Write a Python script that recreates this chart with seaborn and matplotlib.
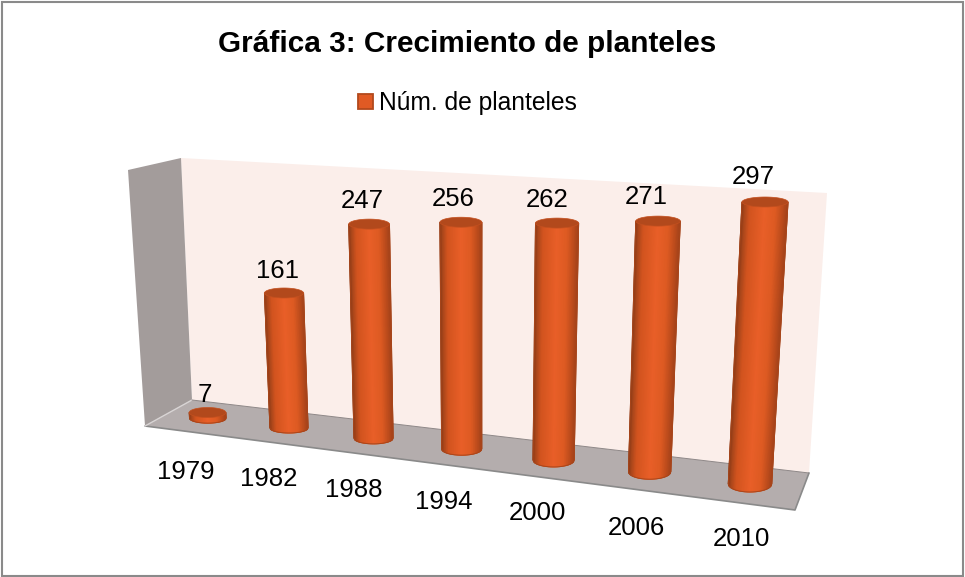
import numpy as np
import pandas as pd
import seaborn as sns
import matplotlib
matplotlib.use("Agg")
import matplotlib.pyplot as plt
from matplotlib.patches import Polygon, Rectangle, Patch
from matplotlib.colors import LinearSegmentedColormap

# ---- data ----
years = ["1979", "1982", "1988", "1994", "2000", "2006", "2010"]
planteles = [7, 161, 247, 256, 262, 271, 297]
series_name = "Núm. de planteles"
title_text = "Gráfica 3: Crecimiento de planteles"

# ---- scene geometry (pixels of the 3D box, not data) ----
back_wall = [(181, 158), (827, 193), (809, 473), (192, 400)]
left_wall = [(128, 170), (181, 158), (192, 400), (145, 426)]
floor = [(192, 400), (809, 473), (795, 510), (145, 426)]
plane_src = [(1, 0), (1, 161), (6, 0), (6, 297)]
plane_dst = [(289, 428), (284, 293), (750, 484), (765, 202)]
# label nudges in pixels, relative to the projected bar top / base
value_dx = [-3, -6, -7, -8, -10, -12, -12]
value_dy = [-18, -22, -23, -23, -23, -24, -25]
year_dx = [-22, -20, -20, -18, -16, -13, -9]
year_dy = [54, 51, 52, 53, 53, 56, 55]

sns.set_theme(style="white")
plt.rcParams["font.family"] = ["Liberation Sans", "DejaVu Sans"]


def fit_homography(src, dst):
    A, b = [], []
    for (x, y), (u, v) in zip(src, dst):
        A.append([x, y, 1, 0, 0, 0, -u * x, -u * y]); b.append(u)
        A.append([0, 0, 0, x, y, 1, -v * x, -v * y]); b.append(v)
    return np.append(np.linalg.solve(np.array(A, float), np.array(b, float)), 1).reshape(3, 3)


H = fit_homography(plane_src, plane_dst)


def project(x, y):
    """Map (category position, value) on the chart plane to scene pixels."""
    p = H @ np.array([x, y, 1.0])
    return p[:2] / p[2]


fig = plt.figure(figsize=(9.65, 5.77), dpi=100, facecolor="white")
ax = fig.add_axes([0, 0, 1, 1])

df = pd.DataFrame({"pos": np.arange(len(years)), "planteles": planteles})
sns.barplot(data=df, x="pos", y="planteles", color="#d9561f", saturation=1, native_scale=True,
            width=0.46, legend=False, ax=ax, zorder=3)
bars = list(ax.patches)

# box walls
ax.add_patch(Polygon(back_wall, closed=True, fc="#fbeeea", ec="none", zorder=1))
ax.add_patch(Polygon(left_wall, closed=True, fc="#a39c9b", ec="none", zorder=1))
ax.add_patch(Polygon(floor, closed=True, fc="#b4adad", ec="none", zorder=1))
ax.plot([145, 795, 809], [426, 510, 473], color="#8a8a8a", lw=1.2, zorder=2)
ax.plot([145, 192], [426, 400], color="#d8d4d4", lw=1.0, zorder=2)
ax.plot([192, 809], [400, 473], color="#8f8888", lw=0.7, zorder=2)

# cylinders: each seaborn bar is projected, then drawn as a shaded cylinder
shade = LinearSegmentedColormap.from_list(
    "cyl", [(0, "#8a3a16"), (0.06, "#a8461b"), (0.18, "#d2541f"), (0.5, "#e95f28"),
            (0.75, "#dd5a22"), (0.9, "#bd4c1c"), (1, "#a5431a")])
t = np.linspace(0, 2 * np.pi, 80)
s = np.linspace(-1, 1, 61)
for i, bar in enumerate(bars):
    x0, w, h = bar.get_x(), bar.get_width(), bar.get_height()
    cx = x0 + w / 2
    taper = 1 - 0.016 * max(i - 1, 0)
    (tx, ty) = project(cx, h)
    (bx, by) = project(cx, 0)
    thw = (project(x0 + w, h)[0] - project(x0, h)[0]) / 2 * taper
    bhw = (project(x0 + w, 0)[0] - project(x0, 0)[0]) / 2 * taper
    k_top = 5.0
    k_base = 5.0 + 0.6 * max(i - 1, 0)
    # the flat seaborn bar moves to its projected place, inside the cylinder body
    bar.set_bounds(min(tx, bx) - 2, ty, 4 + abs(tx - bx), by - ty)
    # body: smooth gradient over a two-row mesh whose lower row follows the base arc
    arc = by + k_base * np.sqrt(np.clip(1 - s * s, 0, None))
    X = np.vstack([tx + s * thw, bx + s * bhw])
    Y = np.vstack([np.full_like(s, ty), arc])
    C = np.vstack([(s + 1) / 2, (s + 1) / 2])
    ax.pcolormesh(X, Y, C, shading="gouraud", cmap=shade, vmin=0, vmax=1, zorder=4)
    # soft outline hides the mesh's hard edge
    ax.plot(np.r_[X[0, 0], X[1], X[0, -1]], np.r_[Y[0, 0], Y[1], Y[0, -1]],
            color="#a8461b", lw=0.7, zorder=4.5)
    ax.add_patch(Polygon(np.c_[tx + thw * np.cos(t), ty + k_top * np.sin(t)], closed=True,
                         fc="#b2491c", ec="#c4501f", lw=0.5, zorder=5))
    ax.text(tx + value_dx[i], ty + value_dy[i], str(planteles[i]), ha="center", va="center",
            fontsize=18.5, color="black", zorder=6)
    ax.text(bx + year_dx[i], by + year_dy[i], years[i], ha="center", va="center",
            fontsize=18.5, color="black", zorder=6)

ax.set_xlim(0, 965)
ax.set_ylim(577, 0)
ax.set_axis_off()

fig.text(467.5 / 965, 1 - 44 / 577, title_text, ha="center", va="center",
         fontsize=21.4, fontweight="bold", color="black")
handle = Patch(fc="#e05a24", ec="#b2491c", lw=1.3)
fig.legend(handles=[handle], labels=[series_name], loc="center",
           bbox_to_anchor=(467.5 / 965, 1 - 103 / 577), frameon=False, fontsize=17.7,
           labelcolor="black", handlelength=0.6, handleheight=0.6, handletextpad=0.25, borderpad=0)

fig.add_artist(Rectangle((1.5 / 965, 1.5 / 577), 961 / 965, 574 / 577, transform=fig.transFigure,
                         fc="none", ec="#8a8a8a", lw=1.5))
fig.savefig("out.png", dpi=100)
